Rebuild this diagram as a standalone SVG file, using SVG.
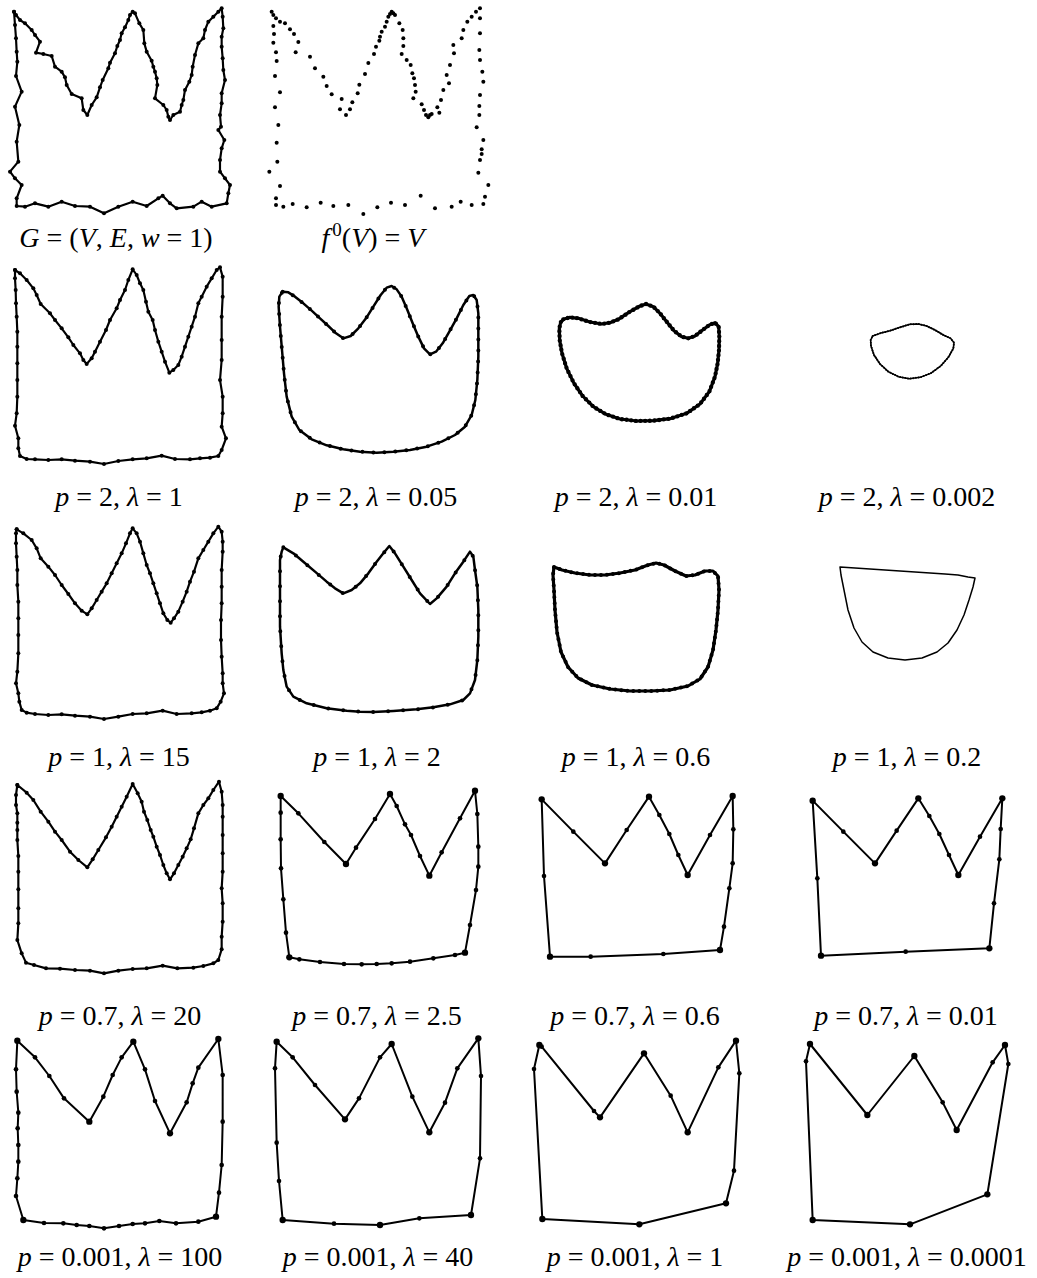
<svg xmlns="http://www.w3.org/2000/svg" xmlns:xlink="http://www.w3.org/1999/xlink" width="1037" height="1278" viewBox="0 0 1037 1278">
<style>
.ln{fill:none;stroke:#000;stroke-linejoin:round;stroke-linecap:round}
.w4{stroke-width:4.5}.w5{stroke-width:6}.w6{stroke-width:6.5}.w7{stroke-width:7.5}.w9{stroke-width:9.5}
.mk{marker:url(#dot)}
.mk2{marker:url(#dot2)}
.bd{fill:none;stroke:#000;stroke-linecap:round}
.lb{font-family:"Liberation Serif",serif;font-size:28px;text-anchor:middle;fill:#000}
.i{font-style:italic}
</style>
<defs>
<marker id="dot" markerUnits="userSpaceOnUse" viewBox="-10 -10 20 20" markerWidth="20" markerHeight="20" refX="0" refY="0" overflow="visible"><circle r="6" fill="#000"/></marker>
<marker id="dot2" markerUnits="userSpaceOnUse" viewBox="-10 -10 20 20" markerWidth="20" markerHeight="20" refX="0" refY="0" overflow="visible"><circle r="7" fill="#000"/></marker>
<polygon id="s2b" points="68,95 85,97 105,110 130,130 155,152 180,175 205,198 228,220 250,235 272,228 295,205 318,175 340,140 362,105 380,83 395,78 410,88 425,110 440,145 458,190 475,230 492,265 510,283 528,275 548,250 568,215 590,175 610,135 628,108 640,105 650,120 655,160 655,220 655,290 652,360 646,420 635,465 615,500 585,525 545,545 500,560 450,570 400,575 350,578 300,575 250,568 200,556 155,538 118,510 95,470 80,410 72,340 66,270 60,200 56,140 58,110"/>
<polygon id="s2c" points="130,178 150,172 175,175 210,186 245,192 270,188 295,178 330,155 360,138 378,132 400,140 420,160 440,185 462,212 485,230 505,235 525,228 548,210 568,195 585,188 596,200 598,230 597,270 593,310 585,350 568,395 540,432 500,460 450,476 400,482 350,483 300,477 258,463 220,440 188,408 162,370 140,325 126,280 119,240 118,205 122,187"/>
<polygon id="s2d" points="1058,228 1080,220 1110,212 1140,202 1170,193 1195,192 1220,198 1245,210 1270,225 1292,235 1302,248 1300,265 1285,292 1262,318 1232,340 1200,352 1168,356 1135,350 1105,335 1080,312 1062,285 1053,258 1052,240"/>
<polygon id="s1b" points="850,82 880,100 910,125 945,155 980,185 1005,205 1030,220 1055,210 1080,190 1105,160 1130,125 1150,100 1168,78 1185,100 1210,140 1235,180 1260,220 1290,252 1310,235 1340,200 1365,160 1390,125 1410,95 1420,110 1425,150 1432,200 1435,270 1435,350 1432,420 1425,480 1410,520 1390,540 1350,553 1300,562 1250,568 1180,573 1120,576 1080,575 1040,572 980,565 920,550 880,530 860,500 850,450 845,400 840,320 840,250 840,170 840,120 845,95"/>
<polygon id="s1c" points="102,141 126,150 165,159 210,165 255,165 300,159 345,150 384,135 408,129 432,135 465,153 498,168 525,165 555,153 579,153 594,168 597,210 594,270 588,330 579,390 564,441 540,477 504,498 450,510 390,513 330,513 270,507 216,495 174,474 144,441 123,396 111,336 105,270 102,210 99,165"/>
<polygon id="s1d" points="180,141 225,144 270,147 315,150 360,153 405,156 450,159 495,162 534,165 564,171 585,174 579,201 567,240 552,285 531,330 504,369 471,396 426,414 375,420 324,414 279,396 246,366 222,324 204,270 192,210 183,165"/>
</defs>

<g id="panel-G" transform="translate(0,0) scale(0.333333)">
<polygon class="ln w6 mk" points="42,35 48,45 60,60 75,70 95,90 105,105 120,125 108,158 130,162 155,168 165,200 185,215 195,232 200,255 215,282 245,295 250,330 262,345 275,315 290,292 300,262 308,240 325,205 330,188 345,160 352,138 360,120 365,100 375,82 385,60 390,45 398,35 405,40 418,70 430,90 433,130 440,155 455,182 460,200 465,215 470,235 472,255 465,295 490,315 500,330 505,350 510,360 520,345 540,335 545,315 550,300 555,270 568,245 575,225 578,200 585,165 595,130 610,115 615,90 625,65 640,50 655,35 665,25 668,50 670,85 665,110 665,140 668,175 670,210 675,240 665,280 665,310 660,345 663,380 655,390 673,420 665,445 660,480 660,515 675,535 690,555 685,580 680,610 635,620 605,605 580,620 530,625 510,610 488,587 475,595 440,618 398,605 355,620 312,640 270,620 225,618 185,605 145,620 105,610 75,620 50,618 50,595 65,555 45,535 30,515 55,485 50,425 58,375 45,320 65,275 48,228 52,185 50,155 48,115 45,75"/>
</g>
<text class="lb" x="116" y="247"><tspan class="i">G</tspan> = (<tspan class="i">V</tspan>, <tspan class="i">E</tspan>, <tspan class="i">w</tspan> = 1)</text>

<g id="panel-f0" transform="translate(250,0) scale(0.333333)" fill="#000">
<circle cx="65" cy="35" r="6"/><circle cx="70" cy="45" r="6"/><circle cx="78" cy="55" r="6"/><circle cx="90" cy="65" r="6"/><circle cx="105" cy="70" r="6"/><circle cx="120" cy="88" r="6"/><circle cx="132" cy="102" r="6"/><circle cx="145" cy="126" r="6"/><circle cx="137" cy="157" r="6"/><circle cx="180" cy="170" r="6"/><circle cx="195" cy="205" r="6"/><circle cx="220" cy="230" r="6"/><circle cx="230" cy="258" r="6"/><circle cx="245" cy="283" r="6"/><circle cx="275" cy="297" r="6"/><circle cx="270" cy="328" r="6"/><circle cx="288" cy="345" r="6"/><circle cx="300" cy="328" r="6"/><circle cx="307" cy="307" r="6"/><circle cx="323" cy="280" r="6"/><circle cx="328" cy="254" r="6"/><circle cx="345" cy="222" r="6"/><circle cx="355" cy="189" r="6"/><circle cx="372" cy="162" r="6"/><circle cx="378" cy="140" r="6"/><circle cx="388" cy="122" r="6"/><circle cx="390" cy="110" r="6"/><circle cx="395" cy="95" r="6"/><circle cx="405" cy="80" r="6"/><circle cx="410" cy="65" r="6"/><circle cx="415" cy="50" r="6"/><circle cx="420" cy="42" r="6"/><circle cx="425" cy="35" r="6"/><circle cx="430" cy="40" r="6"/><circle cx="435" cy="45" r="6"/><circle cx="448" cy="70" r="6"/><circle cx="458" cy="90" r="6"/><circle cx="460" cy="115" r="6"/><circle cx="460" cy="138" r="6"/><circle cx="455" cy="162" r="6"/><circle cx="470" cy="180" r="6"/><circle cx="482" cy="195" r="6"/><circle cx="487" cy="220" r="6"/><circle cx="492" cy="235" r="6"/><circle cx="495" cy="255" r="6"/><circle cx="497" cy="275" r="6"/><circle cx="490" cy="295" r="6"/><circle cx="515" cy="313" r="6"/><circle cx="522" cy="330" r="6"/><circle cx="528" cy="345" r="6"/><circle cx="535" cy="352" r="6"/><circle cx="540" cy="345" r="6"/><circle cx="545" cy="342" r="6"/><circle cx="562" cy="322" r="6"/><circle cx="568" cy="338" r="6"/><circle cx="573" cy="300" r="6"/><circle cx="580" cy="270" r="6"/><circle cx="597" cy="250" r="6"/><circle cx="590" cy="225" r="6"/><circle cx="600" cy="195" r="6"/><circle cx="612" cy="160" r="6"/><circle cx="610" cy="135" r="6"/><circle cx="635" cy="115" r="6"/><circle cx="640" cy="90" r="6"/><circle cx="652" cy="65" r="6"/><circle cx="665" cy="50" r="6"/><circle cx="678" cy="35" r="6"/><circle cx="690" cy="25" r="6"/><circle cx="690" cy="55" r="6"/><circle cx="690" cy="100" r="6"/><circle cx="688" cy="150" r="6"/><circle cx="690" cy="180" r="6"/><circle cx="697" cy="215" r="6"/><circle cx="700" cy="245" r="6"/><circle cx="690" cy="285" r="6"/><circle cx="688" cy="318" r="6"/><circle cx="688" cy="345" r="6"/><circle cx="680" cy="382" r="6"/><circle cx="700" cy="420" r="6"/><circle cx="695" cy="448" r="6"/><circle cx="695" cy="462" r="6"/><circle cx="690" cy="480" r="6"/><circle cx="685" cy="518" r="6"/><circle cx="715" cy="555" r="6"/><circle cx="705" cy="590" r="6"/><circle cx="700" cy="612" r="6"/><circle cx="665" cy="615" r="6"/><circle cx="632" cy="605" r="6"/><circle cx="605" cy="620" r="6"/><circle cx="555" cy="625" r="6"/><circle cx="512" cy="587" r="6"/><circle cx="465" cy="615" r="6"/><circle cx="423" cy="608" r="6"/><circle cx="382" cy="622" r="6"/><circle cx="340" cy="642" r="6"/><circle cx="295" cy="615" r="6"/><circle cx="250" cy="618" r="6"/><circle cx="212" cy="608" r="6"/><circle cx="170" cy="622" r="6"/><circle cx="128" cy="612" r="6"/><circle cx="100" cy="620" r="6"/><circle cx="78" cy="615" r="6"/><circle cx="78" cy="595" r="6"/><circle cx="90" cy="558" r="6"/><circle cx="58" cy="515" r="6"/><circle cx="82" cy="485" r="6"/><circle cx="80" cy="428" r="6"/><circle cx="85" cy="375" r="6"/><circle cx="75" cy="322" r="6"/><circle cx="90" cy="277" r="6"/><circle cx="75" cy="228" r="6"/><circle cx="80" cy="183" r="6"/><circle cx="78" cy="157" r="6"/><circle cx="70" cy="128" r="6"/><circle cx="72" cy="102" r="6"/><circle cx="70" cy="78" r="6"/>
</g>
<text class="lb" x="373" y="247"><tspan class="i">f</tspan><tspan font-size="19" dx="3" dy="-11">0</tspan><tspan dy="11">(</tspan><tspan class="i">V</tspan>) = <tspan class="i">V</tspan></text>

<!-- Row 1: p = 2 -->
<g id="panel-p2-l1" transform="translate(0,260) scale(0.333333)">
<polygon class="ln w6 mk" points="45,30 60,40 80,60 100,85 110,105 122,132 150,160 165,180 185,205 205,232 220,255 240,280 250,300 260,312 275,295 285,275 300,245 318,210 330,180 350,145 360,120 375,90 385,60 398,28 410,45 420,70 430,90 438,125 445,155 458,180 465,210 475,245 485,275 495,305 508,338 520,330 535,315 545,290 555,260 565,230 575,200 585,170 595,130 605,110 620,80 635,55 650,30 660,22 668,50 668,110 665,170 665,240 665,300 660,360 668,410 668,460 665,500 678,535 665,570 655,588 630,593 600,595 570,598 525,597 485,587 440,595 398,598 355,603 312,612 270,605 225,602 185,598 145,600 105,598 80,597 60,588 55,565 55,535 45,497 50,460 52,410 52,360 52,310 52,260 52,215 50,170 48,130 47,90 45,55"/>
</g>
<text class="lb" x="119" y="506"><tspan class="i">p</tspan> = 2, <tspan class="i">λ</tspan> = 1</text>

<g id="panel-p2-l005" transform="translate(260,260) scale(0.333333)">
<use xlink:href="#s2b" class="ln w7"/>
<use xlink:href="#s2b" class="bd" stroke-width="12" stroke-dasharray="0 33"/>
</g>
<text class="lb" x="376" y="506"><tspan class="i">p</tspan> = 2, <tspan class="i">λ</tspan> = 0.05</text>

<g id="panel-p2-l001" transform="translate(520,260) scale(0.333333)">
<use xlink:href="#s2c" class="ln w9"/>
<use xlink:href="#s2c" class="bd" stroke-width="13" stroke-dasharray="0 14"/>
</g>
<text class="lb" x="636" y="506"><tspan class="i">p</tspan> = 2, <tspan class="i">λ</tspan> = 0.01</text>

<g id="panel-p2-l0002" transform="translate(520,260) scale(0.333333)">
<use xlink:href="#s2d" class="ln w4"/>
<use xlink:href="#s2d" class="bd" stroke-width="6" stroke-dasharray="0 8"/>
</g>
<text class="lb" x="907" y="506"><tspan class="i">p</tspan> = 2, <tspan class="i">λ</tspan> = 0.002</text>

<!-- Row 2: p = 1 -->
<g id="panel-p1-l15" transform="translate(0,520) scale(0.333333)">
<polygon class="ln w6 mk" points="50,28 70,40 95,60 110,85 122,115 145,140 165,165 185,195 205,222 225,250 245,272 262,283 275,265 290,240 305,215 320,190 335,160 350,130 365,100 378,70 390,40 398,25 410,40 420,65 430,100 440,135 450,160 460,190 470,220 480,250 490,280 502,300 512,308 522,295 535,275 548,245 560,215 570,185 582,155 595,115 610,90 625,65 640,40 655,20 665,35 668,65 668,95 665,150 665,200 665,250 663,300 663,360 665,410 668,460 668,490 672,520 662,545 650,565 630,572 605,577 575,580 530,582 488,572 440,580 398,582 355,590 312,597 270,590 225,587 185,583 145,585 105,582 80,578 65,570 58,545 55,520 48,490 52,455 55,400 55,345 55,295 55,245 52,195 52,150 50,110 48,70 48,40"/>
</g>
<text class="lb" x="119" y="766"><tspan class="i">p</tspan> = 1, <tspan class="i">λ</tspan> = 15</text>

<g id="panel-p1-l2" transform="translate(0,520) scale(0.333333)">
<use xlink:href="#s1b" class="ln w7"/>
<use xlink:href="#s1b" class="bd" stroke-width="12" stroke-dasharray="0 45"/>
</g>
<text class="lb" x="377" y="766"><tspan class="i">p</tspan> = 1, <tspan class="i">λ</tspan> = 2</text>

<g id="panel-p1-l06" transform="translate(520,520) scale(0.333333)">
<use xlink:href="#s1c" class="ln w9"/>
<use xlink:href="#s1c" class="bd" stroke-width="12" stroke-dasharray="0 18"/>
</g>
<text class="lb" x="636" y="766"><tspan class="i">p</tspan> = 1, <tspan class="i">λ</tspan> = 0.6</text>

<g id="panel-p1-l02" transform="translate(780,520) scale(0.333333)">
<use xlink:href="#s1d" class="ln w4"/>
</g>
<text class="lb" x="907" y="766"><tspan class="i">p</tspan> = 1, <tspan class="i">λ</tspan> = 0.2</text>

<!-- Row 3: p = 0.7 -->
<g id="panel-p07-l20" transform="translate(0,780) scale(0.333333)">
<polygon class="ln w6 mk" points="52,15 80,38 100,60 122,95 145,125 165,155 185,180 210,215 235,240 262,262 278,238 295,210 318,172 335,140 350,110 365,80 380,50 398,12 413,40 425,65 432,95 442,120 452,150 460,170 470,200 480,225 490,255 500,280 510,298 522,280 535,255 548,230 560,205 572,178 582,145 595,100 610,75 625,55 640,30 657,5 665,35 668,75 668,110 668,165 668,220 668,275 665,325 668,370 668,425 665,470 665,508 655,540 640,550 610,558 580,563 532,565 488,557 440,565 398,567 355,572 312,580 270,572 225,570 180,566 138,565 102,555 78,548 65,520 52,480 55,430 55,385 55,328 55,275 55,228 52,180 52,150 52,128 52,100 48,75 48,45"/>
</g>
<text class="lb" x="120" y="1025"><tspan class="i">p</tspan> = 0.7, <tspan class="i">λ</tspan> = 20</text>

<g id="panel-p07-l25" transform="translate(260,780) scale(0.333333)">
<polygon class="ln w5 mk2" points="62,48 115,100 193,186 258,252 288,203 345,117 390,42 410,78 435,133 453,165 480,228 508,287 545,217 600,115 645,32 652,102 655,200 655,260 648,330 630,435 615,518 585,525 520,535 450,545 395,550 350,552 305,553 252,552 180,546 118,538 88,532 78,458 70,358 63,265 62,178 62,98"/>
<g fill="#000"><circle cx="62" cy="48" r="9.5"/><circle cx="258" cy="252" r="9.5"/><circle cx="390" cy="42" r="9.5"/><circle cx="508" cy="287" r="9.5"/><circle cx="645" cy="32" r="9.5"/><circle cx="615" cy="518" r="9.5"/><circle cx="88" cy="532" r="9.5"/></g>
</g>
<text class="lb" x="377" y="1025"><tspan class="i">p</tspan> = 0.7, <tspan class="i">λ</tspan> = 2.5</text>

<g id="panel-p07-l06" transform="translate(520,780) scale(0.333333)">
<polygon class="ln w5 mk2" points="65,58 160,155 255,250 320,150 387,50 418,105 448,162 475,225 503,285 570,165 638,48 640,148 638,250 628,325 612,440 600,510 430,522 212,530 90,530 72,288"/>
<g fill="#000"><circle cx="65" cy="58" r="9.5"/><circle cx="255" cy="250" r="9.5"/><circle cx="387" cy="50" r="9.5"/><circle cx="503" cy="285" r="9.5"/><circle cx="638" cy="48" r="9.5"/><circle cx="600" cy="510" r="9.5"/><circle cx="90" cy="530" r="9.5"/></g>
</g>
<text class="lb" x="635" y="1025"><tspan class="i">p</tspan> = 0.7, <tspan class="i">λ</tspan> = 0.6</text>

<g id="panel-p07-l001" transform="translate(520,780) scale(0.333333)">
<polygon class="ln w5 mk2" points="878,62 970,155 1065,250 1130,152 1195,55 1228,108 1258,162 1287,225 1315,285 1380,170 1447,55 1442,147 1438,238 1422,370 1408,505 1157,515 903,527 892,295"/>
<g fill="#000"><circle cx="878" cy="62" r="9.5"/><circle cx="1065" cy="250" r="9.5"/><circle cx="1195" cy="55" r="9.5"/><circle cx="1315" cy="285" r="9.5"/><circle cx="1447" cy="55" r="9.5"/><circle cx="1408" cy="505" r="9.5"/><circle cx="903" cy="527" r="9.5"/></g>
</g>
<text class="lb" x="906" y="1025"><tspan class="i">p</tspan> = 0.7, <tspan class="i">λ</tspan> = 0.01</text>

<!-- Row 4: p = 0.001 -->
<g id="panel-p0001-l100" transform="translate(0,1040) scale(0.333333)">
<polygon class="ln w5 mk2" points="52,2 105,52 148,108 192,175 268,245 310,170 338,105 365,52 400,5 435,88 465,183 510,280 560,187 578,130 595,83 655,-3 668,105 668,245 665,375 657,458 648,530 595,545 528,550 478,543 435,550 398,552 357,558 312,565 268,558 230,555 190,550 132,549 70,540 48,468 52,415 55,365 55,315 53,265 55,218 50,155 48,88"/>
<g fill="#000"><circle cx="52" cy="2" r="9.5"/><circle cx="268" cy="245" r="9.5"/><circle cx="400" cy="5" r="9.5"/><circle cx="510" cy="280" r="9.5"/><circle cx="655" cy="-3" r="9.5"/><circle cx="648" cy="530" r="9.5"/><circle cx="70" cy="540" r="9.5"/></g>
</g>
<text class="lb" x="120" y="1266"><tspan class="i">p</tspan> = 0.001, <tspan class="i">λ</tspan> = 100</text>

<g id="panel-p0001-l40" transform="translate(260,1040) scale(0.333333)">
<polygon class="ln w5 mk2" points="50,5 98,52 165,135 255,238 297,175 360,52 395,12 457,170 508,277 555,188 592,85 655,-5 663,108 660,355 633,525 478,535 360,555 222,551 68,540 57,423 50,308 45,85"/>
<g fill="#000"><circle cx="50" cy="5" r="9.5"/><circle cx="255" cy="238" r="9.5"/><circle cx="395" cy="12" r="9.5"/><circle cx="508" cy="277" r="9.5"/><circle cx="655" cy="-5" r="9.5"/><circle cx="633" cy="525" r="9.5"/><circle cx="68" cy="540" r="9.5"/><circle cx="360" cy="555" r="9.5"/></g>
</g>
<text class="lb" x="378" y="1266"><tspan class="i">p</tspan> = 0.001, <tspan class="i">λ</tspan> = 40</text>

<g id="panel-p0001-l1" transform="translate(520,1040) scale(0.333333)">
<polygon class="ln w5 mk2" points="58,15 65,20 222,213 240,232 372,40 452,167 503,277 595,82 648,2 658,100 642,392 618,490 358,553 67,537 42,87"/>
<g fill="#000"><circle cx="58" cy="15" r="9.5"/><circle cx="240" cy="232" r="9.5"/><circle cx="372" cy="40" r="9.5"/><circle cx="503" cy="277" r="9.5"/><circle cx="648" cy="2" r="9.5"/><circle cx="618" cy="490" r="9.5"/><circle cx="358" cy="553" r="9.5"/><circle cx="67" cy="537" r="9.5"/></g>
</g>
<text class="lb" x="635" y="1266"><tspan class="i">p</tspan> = 0.001, <tspan class="i">λ</tspan> = 1</text>

<g id="panel-p0001-l00001" transform="translate(520,1040) scale(0.333333)">
<polygon class="ln w5 mk2" points="870,12 1042,225 1183,48 1268,187 1310,270 1418,67 1455,15 1465,72 1402,463 1170,553 878,540 858,64"/>
<g fill="#000"><circle cx="870" cy="12" r="9.5"/><circle cx="1042" cy="225" r="9.5"/><circle cx="1183" cy="48" r="9.5"/><circle cx="1310" cy="270" r="9.5"/><circle cx="1455" cy="15" r="9.5"/><circle cx="1402" cy="463" r="9.5"/><circle cx="1170" cy="553" r="9.5"/><circle cx="878" cy="540" r="9.5"/></g>
</g>
<text class="lb" x="907" y="1266"><tspan class="i">p</tspan> = 0.001, <tspan class="i">λ</tspan> = 0.0001</text>
</svg>
